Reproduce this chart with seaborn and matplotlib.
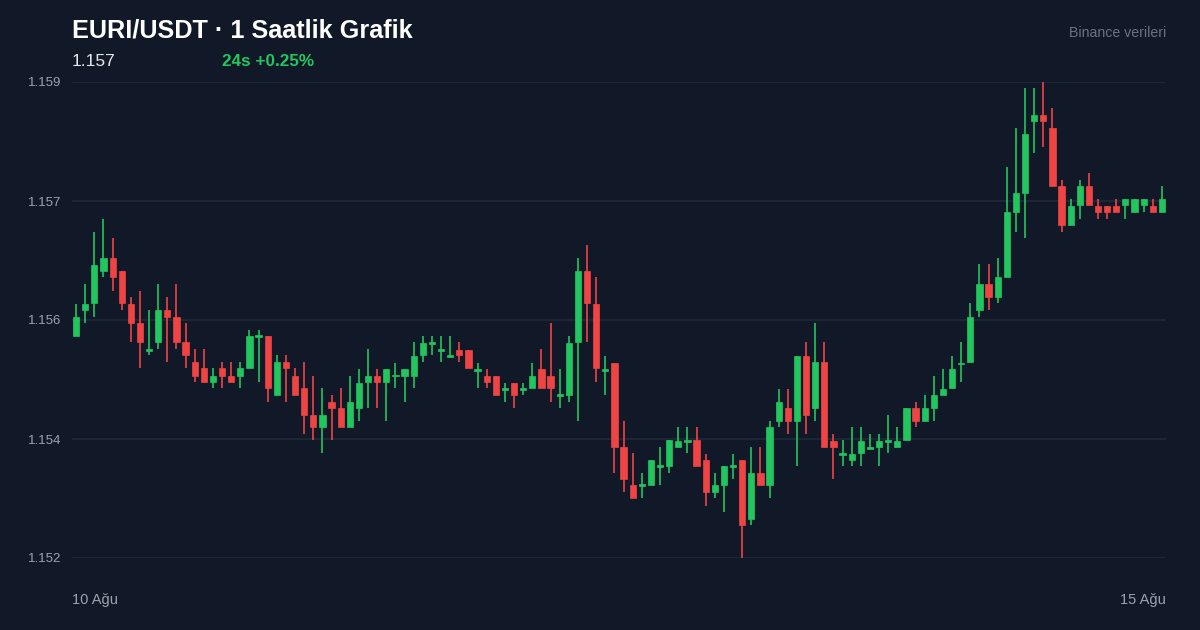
import numpy as np
import pandas as pd
import matplotlib
matplotlib.use("Agg")
import matplotlib.pyplot as plt
import seaborn as sns

# hourly OHLC candles, 10 Ağu -> 15 Ağu
opens = [1.15526, 1.15565, 1.15575, 1.15622, 1.15641, 1.15622, 1.15574, 1.15545, 1.15505, 1.15517,
         1.15565, 1.15555, 1.15517, 1.15488, 1.15479, 1.15459, 1.15479, 1.15468, 1.15468, 1.15479,
         1.15525, 1.15526, 1.15440, 1.15488, 1.15468, 1.15450, 1.15411, 1.15392, 1.15430, 1.15421,
         1.15392, 1.15421, 1.15459, 1.15468, 1.15459, 1.15467, 1.15468, 1.15468, 1.15498, 1.15515,
         1.15505, 1.15496, 1.15506, 1.15506, 1.15475, 1.15468, 1.15468, 1.15447, 1.15458, 1.15447,
         1.15450, 1.15478, 1.15468, 1.15438, 1.15440, 1.15517, 1.15622, 1.15574, 1.15475, 1.15487,
         1.15363, 1.15307, 1.15306, 1.15307, 1.15334, 1.15335, 1.15363, 1.15371, 1.15373, 1.15344,
         1.15297, 1.15307, 1.15334, 1.15344, 1.15258, 1.15325, 1.15307, 1.15401, 1.15420, 1.15401,
         1.15497, 1.15421, 1.15488, 1.15372, 1.15352, 1.15344, 1.15354, 1.15361, 1.15363, 1.15371,
         1.15363, 1.15373, 1.15420, 1.15402, 1.15421, 1.15440, 1.15450, 1.15485, 1.15488, 1.15565,
         1.15603, 1.15584, 1.15613, 1.15709, 1.15737, 1.15843, 1.15852, 1.15832, 1.15747, 1.15690,
         1.15719, 1.15747, 1.15718, 1.15718, 1.15718, 1.15719, 1.15709, 1.15719, 1.15718, 1.15709]
highs = [1.15574, 1.15603, 1.15679, 1.15699, 1.15670, 1.15622, 1.15584, 1.15593, 1.15565, 1.15603,
         1.15584, 1.15603, 1.15545, 1.15507, 1.15507, 1.15479, 1.15488, 1.15488, 1.15488, 1.15536,
         1.15536, 1.15526, 1.15498, 1.15498, 1.15479, 1.15488, 1.15468, 1.15450, 1.15440, 1.15450,
         1.15468, 1.15478, 1.15507, 1.15478, 1.15478, 1.15487, 1.15478, 1.15517, 1.15526, 1.15526,
         1.15526, 1.15526, 1.15517, 1.15506, 1.15487, 1.15478, 1.15468, 1.15458, 1.15458, 1.15458,
         1.15487, 1.15507, 1.15545, 1.15478, 1.15526, 1.15641, 1.15660, 1.15613, 1.15497, 1.15487,
         1.15401, 1.15354, 1.15325, 1.15344, 1.15363, 1.15373, 1.15392, 1.15392, 1.15392, 1.15353,
         1.15325, 1.15335, 1.15353, 1.15344, 1.15363, 1.15363, 1.15401, 1.15449, 1.15449, 1.15497,
         1.15517, 1.15545, 1.15517, 1.15382, 1.15373, 1.15392, 1.15392, 1.15382, 1.15382, 1.15411,
         1.15392, 1.15420, 1.15430, 1.15439, 1.15468, 1.15478, 1.15497, 1.15517, 1.15575, 1.15632,
         1.15632, 1.15641, 1.15775, 1.15833, 1.15891, 1.15891, 1.15900, 1.15862, 1.15756, 1.15728,
         1.15756, 1.15766, 1.15728, 1.15718, 1.15728, 1.15728, 1.15728, 1.15728, 1.15728, 1.15747]
lows = [1.15526, 1.15546, 1.15555, 1.15613, 1.15593, 1.15565, 1.15517, 1.15479, 1.15498, 1.15507,
        1.15488, 1.15507, 1.15479, 1.15459, 1.15459, 1.15450, 1.15450, 1.15459, 1.15450, 1.15479,
        1.15459, 1.15430, 1.15440, 1.15430, 1.15440, 1.15382, 1.15373, 1.15354, 1.15373, 1.15392,
        1.15392, 1.15402, 1.15421, 1.15421, 1.15402, 1.15450, 1.15430, 1.15450, 1.15488, 1.15498,
        1.15488, 1.15495, 1.15488, 1.15479, 1.15450, 1.15450, 1.15440, 1.15430, 1.15421, 1.15440,
        1.15450, 1.15450, 1.15430, 1.15421, 1.15430, 1.15402, 1.15517, 1.15459, 1.15440, 1.15325,
        1.15297, 1.15288, 1.15288, 1.15307, 1.15307, 1.15325, 1.15363, 1.15354, 1.15335, 1.15277,
        1.15288, 1.15268, 1.15316, 1.15200, 1.15249, 1.15307, 1.15288, 1.15392, 1.15382, 1.15335,
        1.15382, 1.15401, 1.15363, 1.15316, 1.15335, 1.15335, 1.15335, 1.15361, 1.15335, 1.15354,
        1.15363, 1.15373, 1.15392, 1.15402, 1.15402, 1.15440, 1.15450, 1.15459, 1.15488, 1.15555,
        1.15565, 1.15575, 1.15613, 1.15680, 1.15670, 1.15795, 1.15805, 1.15747, 1.15680, 1.15690,
        1.15699, 1.15719, 1.15699, 1.15699, 1.15709, 1.15699, 1.15709, 1.15709, 1.15709, 1.15709]
closes = [1.15555, 1.15574, 1.15631, 1.15641, 1.15613, 1.15575, 1.15546, 1.15517, 1.15507, 1.15565,
          1.15555, 1.15517, 1.15498, 1.15468, 1.15459, 1.15468, 1.15468, 1.15459, 1.15479, 1.15526,
          1.15526, 1.15450, 1.15488, 1.15479, 1.15440, 1.15411, 1.15392, 1.15411, 1.15421, 1.15392,
          1.15430, 1.15458, 1.15468, 1.15459, 1.15478, 1.15468, 1.15478, 1.15497, 1.15516, 1.15516,
          1.15506, 1.15497, 1.15498, 1.15479, 1.15476, 1.15459, 1.15440, 1.15448, 1.15440, 1.15448,
          1.15468, 1.15450, 1.15450, 1.15439, 1.15516, 1.15622, 1.15575, 1.15479, 1.15476, 1.15363,
          1.15316, 1.15288, 1.15307, 1.15344, 1.15335, 1.15373, 1.15372, 1.15372, 1.15335, 1.15297,
          1.15307, 1.15335, 1.15335, 1.15249, 1.15325, 1.15307, 1.15392, 1.15429, 1.15401, 1.15497,
          1.15411, 1.15488, 1.15363, 1.15363, 1.15353, 1.15353, 1.15372, 1.15362, 1.15372, 1.15372,
          1.15372, 1.15420, 1.15402, 1.15420, 1.15439, 1.15449, 1.15478, 1.15486, 1.15555, 1.15603,
          1.15584, 1.15613, 1.15709, 1.15737, 1.15823, 1.15852, 1.15843, 1.15747, 1.15690, 1.15718,
          1.15747, 1.15719, 1.15709, 1.15709, 1.15709, 1.15728, 1.15728, 1.15728, 1.15709, 1.15728]

y_ticks = [1.152, 1.15375, 1.1555, 1.15725, 1.159]
y_tick_labels = ["1.152", "1.154", "1.156", "1.157", "1.159"]
x_labels = ["10 Ağu", "15 Ağu"]
title = "EURI/USDT · 1 Saatlik Grafik"
last_price = "1.157"
change_text = "24s +0.25%"
source_text = "Binance verileri"

BG = "#111827"
GRID = "#1f2937"
UP = "#22c55e"
DOWN = "#ef4444"
MUTED = "#9ca3af"

sns.set_theme(style="dark")
plt.rcParams['font.family'] = ['Liberation Sans', 'DejaVu Sans']

df = pd.DataFrame({"o": opens, "h": highs, "l": lows, "c": closes})
df["idx"] = np.arange(len(df))
df["up"] = df["c"] >= df["o"]
df["color"] = np.where(df["up"], UP, DOWN)
df["bottom"] = df[["o", "c"]].min(axis=1)
df["height"] = (df["c"] - df["o"]).abs().clip(lower=0.000025)

fig = plt.figure(figsize=(12, 6.3), dpi=100, facecolor=BG)
ax = fig.add_axes([72 / 1200, 72 / 630, 1094 / 1200, 476 / 630], facecolor=BG)

for yt in y_ticks:
    ax.axhline(yt, color=GRID, lw=1.2, zorder=0)

ax.vlines(df["idx"], df["l"], df["h"], colors=df["color"], lw=1.2, zorder=2)
ax.bar(df["idx"], df["height"], bottom=df["bottom"], width=0.68, color=df["color"],
       edgecolor=df["color"], linewidth=0.5, zorder=3)

ax.set_xlim(-0.45, 119.45)
ax.set_ylim(1.152, 1.159)
ax.set_yticks(y_ticks)
ax.set_yticklabels(y_tick_labels, color=MUTED, fontsize=9.5)
ax.tick_params(axis="y", length=0, pad=7.5)
ax.set_xticks([])
ax.grid(False)
sns.despine(ax=ax, left=True, bottom=True)

fig.text(72 / 1200, 1 - 600 / 630, x_labels[0], color=MUTED, fontsize=10.5, va="center", ha="left")
fig.text(1166 / 1200, 1 - 600 / 630, x_labels[1], color=MUTED, fontsize=10.5, va="center", ha="right")

fig.text(72 / 1200, 1 - 30 / 630, title, color="white", fontsize=18.2, fontweight="bold", va="center")
fig.text(72 / 1200, 1 - 61 / 630, last_price, color="#e5e7eb", fontsize=12.5, va="center")
fig.text(222 / 1200, 1 - 61 / 630, change_text, color=UP, fontsize=12.3, fontweight="bold", va="center")
fig.text(1166 / 1200, 1 - 33 / 630, source_text, color="#6b7280", fontsize=10.2, va="center", ha="right")

fig.savefig("out.png", dpi=100, facecolor=BG)
